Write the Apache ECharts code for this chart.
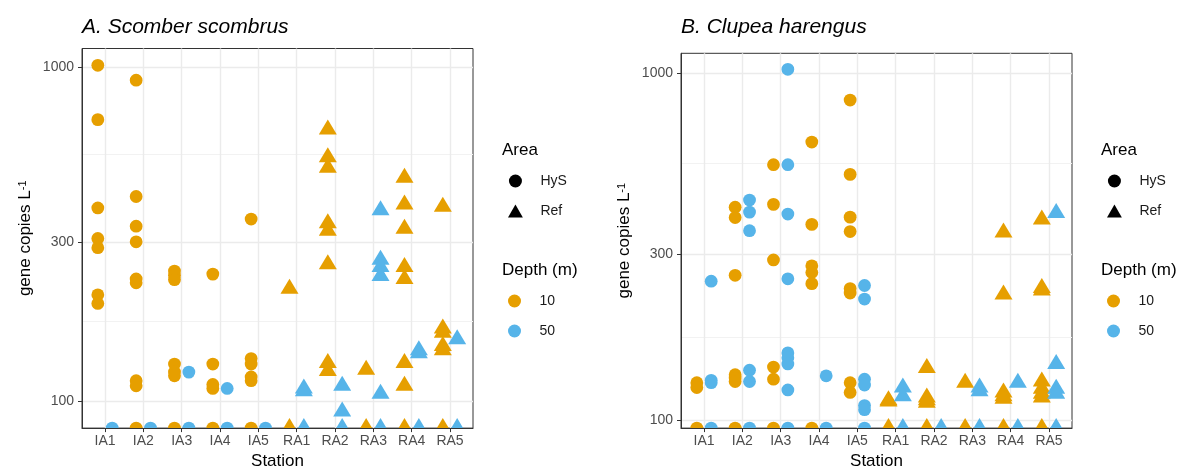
<!DOCTYPE html>
<html>
<head>
<meta charset="utf-8">
<script src="https://cdn.jsdelivr.net/npm/echarts@6/dist/echarts.min.js"></script>
<style>
  html, body { margin: 0; background: #fff; }
  #main { width: 1182px; height: 475px; }
</style>
</head>
<body>
<div id="main"></div>
<script>
// stations on the x axis (IA = HyS area, RA = Ref area)
var stations = ['IA1', 'IA2', 'IA3', 'IA4', 'IA5', 'RA1', 'RA2', 'RA3', 'RA4', 'RA5'];

// gene copies per litre, one list per station, 0 = not detected
var scomber10 = [
  [1014, 697, 379, 307, 288, 208, 196],
  [915, 410, 334, 300, 232, 226, 115, 111, 0],
  [245, 238, 231, 129, 122, 119, 0],
  [240, 129, 112, 109, 0],
  [351, 134, 129, 118, 115, 0],
  [217, 0],
  [651, 538, 500, 341, 324, 257, 130, 123],
  [124, 0],
  [467, 388, 328, 252, 232, 130, 111, 0],
  [382, 165, 160, 146, 142, 0]
];
var scomber50 = [
  [0], [0], [122, 0], [109, 0], [0],
  [109, 107, 0], [111, 93, 0], [373, 265, 252, 237, 105, 0], [142, 139, 0], [153, 0]
];
var clupea10 = [
  [128, 124, 0],
  [410, 383, 261, 135, 132, 129, 0],
  [544, 418, 289, 142, 131, 0],
  [632, 366, 278, 266, 247, 0],
  [835, 510, 384, 349, 239, 232, 128, 120],
  [114, 113, 0],
  [141, 116, 114, 112, 0],
  [128, 0],
  [347, 230, 120, 117, 115, 0],
  [378, 240, 236, 129, 123, 119, 116, 0]
];
var clupea50 = [
  [251, 130, 128, 0],
  [430, 397, 351, 139, 129, 0],
  [1024, 544, 392, 255, 156, 151, 145, 122, 0],
  [134, 0],
  [244, 223, 131, 126, 110, 107, 0],
  [124, 117, 0],
  [0],
  [124, 121, 0],
  [128, 0],
  [395, 145, 123, 119, 0]
];

var yTicks = [100, 300, 1000];
var yMinorTicks = [173.2, 547.7];
var rangeA = [82.9, 1139];
var rangeB = [94.7, 1139];

var FONT = 'Liberation Sans, Arial, sans-serif';
var ORANGE = '#E69F00';
var BLUE = '#56B4E9';
var xTicks = stations.map(function (s, i) { return i + 1; });
var triIcon = 'path://M8,0 L16,14 L0,14 Z';

var myChart = echarts.init(document.getElementById('main'));

// one point per value, dodged left (10 m) or right (50 m); zeros sit on the panel floor
function pointsFor(values, dodge, floor) {
  var out = [];
  values.forEach(function (list, i) {
    var area = stations[i].charAt(0) === 'R' ? 1 : 0;
    list.forEach(function (v) {
      out.push([i + 1 + dodge, v > 0 ? v : floor, area]);
    });
  });
  return out;
}

function drawPoint(params, api) {
  var p = api.coord([api.value(0), api.value(1)]);
  var fill = api.visual('color');
  if (api.value(2) === 1) {
    return {
      type: 'polygon',
      shape: { points: [[p[0], p[1] - 10], [p[0] + 9, p[1] + 5], [p[0] - 9, p[1] + 5]] },
      style: { fill: fill }
    };
  }
  return { type: 'circle', shape: { cx: p[0], cy: p[1], r: 6.4 }, style: { fill: fill } };
}

function xAxes(gi) {
  return [{
    gridIndex: gi, type: 'value', min: 0.4, max: 10.6, position: 'bottom',
    axisLine: { show: false },
    axisTick: { show: true, length: 4, customValues: xTicks, lineStyle: { color: '#333333' } },
    axisLabel: {
      customValues: xTicks, color: '#4D4D4D', fontSize: 14, margin: 6, fontFamily: FONT,
      formatter: function (v) { return stations[Math.round(v) - 1]; }
    },
    splitLine: { show: true, lineStyle: { color: '#EBEBEB', width: 1.4 } },
    name: 'Station', nameLocation: 'middle', nameGap: 24,
    nameTextStyle: { color: '#000', fontSize: 17, fontFamily: FONT }
  }, {
    gridIndex: gi, type: 'value', min: 0.4, max: 10.6, position: 'bottom', z: 5,
    axisLine: { show: true, onZero: false, lineStyle: { color: '#333333', width: 1 } },
    axisTick: { show: false }, axisLabel: { show: false }, splitLine: { show: false }
  }];
}

function yAxes(gi, range) {
  return [{
    gridIndex: gi, type: 'log', logBase: 10, min: range[0], max: range[1], position: 'left',
    axisLine: { show: true, onZero: false, lineStyle: { color: '#333333', width: 1 } },
    axisTick: { show: true, length: 4, customValues: yTicks, lineStyle: { color: '#333333' } },
    axisLabel: {
      customValues: yTicks, color: '#4D4D4D', fontSize: 14, margin: 8, fontFamily: FONT,
      formatter: function (v) { return String(Math.round(v)); }
    },
    splitLine: { show: true, lineStyle: { color: '#EBEBEB', width: 1.4 } },
    name: 'gene copies L{sup|-1}', nameLocation: 'middle', nameGap: 48,
    nameTextStyle: {
      color: '#000', fontSize: 17, fontFamily: FONT,
      rich: { sup: { fontSize: 11, fontFamily: FONT, color: '#000', verticalAlign: 'top' } }
    }
  }, {
    gridIndex: gi, type: 'log', logBase: 10, min: range[0], max: range[1], position: 'left',
    axisLine: { show: false },
    axisTick: { show: false, customValues: yMinorTicks },
    axisLabel: { show: false },
    splitLine: { show: true, lineStyle: { color: '#F2F2F2', width: 1 } }
  }];
}

function pointSeries(name, xi, yi, color, data) {
  return {
    name: name, type: 'custom', xAxisIndex: xi, yAxisIndex: yi,
    clip: true, itemStyle: { color: color },
    dimensions: ['x', 'y', 'area'], encode: { x: 0, y: 1 },
    renderItem: drawPoint, data: data
  };
}

function dummy(name, color) {
  return {
    name: name, type: 'scatter', xAxisIndex: 0, yAxisIndex: 0,
    itemStyle: { color: color, opacity: 1 }, data: []
  };
}

function legendBlock(left, top, items) {
  return {
    orient: 'vertical', left: left, top: top, padding: 0,
    itemWidth: 40, itemHeight: 13, itemGap: 16, selectedMode: false,
    itemStyle: { opacity: 1 },
    textStyle: { fontSize: 14, color: '#1A1A1A', fontFamily: FONT },
    data: items
  };
}

function heading(text, left, top, size, italic) {
  return {
    text: text, left: left, top: top, padding: 0,
    textStyle: { fontSize: size, fontWeight: 'normal', fontStyle: italic ? 'italic' : 'normal', color: '#000', fontFamily: FONT }
  };
}

var areaItems = [{ name: 'HyS', icon: 'circle' }, { name: 'Ref', icon: triIcon }];
var depthItems = [{ name: '10', icon: 'circle' }, { name: '50', icon: 'circle' }];

option = {
  animation: false,
  textStyle: { fontFamily: FONT },
  title: [
    heading('A. Scomber scombrus', 82, 17, 21, true),
    heading('B. Clupea harengus', 681, 17, 21, true),
    heading('Area', 502, 142, 17),
    heading('Depth (m)', 502, 262, 17),
    heading('Area', 1101, 142, 17),
    heading('Depth (m)', 1101, 262, 17)
  ],
  legend: [
    legendBlock(508, 174, areaItems),
    legendBlock(508, 294, depthItems),
    legendBlock(1107, 174, areaItems),
    legendBlock(1107, 294, depthItems)
  ],
  grid: [
    { left: 82, top: 48.5, width: 391, height: 386.5, show: true, borderColor: '#333333', borderWidth: 1, backgroundColor: '#fff' },
    { left: 681, top: 53.3, width: 391, height: 381.7, show: true, borderColor: '#333333', borderWidth: 1, backgroundColor: '#fff' }
  ],
  xAxis: xAxes(0).concat(xAxes(1)),
  yAxis: yAxes(0, rangeA).concat(yAxes(1, rangeB)),
  series: [
    pointSeries('A 10', 0, 0, ORANGE, pointsFor(scomber10, -0.1875, rangeA[0])),
    pointSeries('A 50', 0, 0, BLUE, pointsFor(scomber50, 0.1875, rangeA[0])),
    pointSeries('B 10', 2, 2, ORANGE, pointsFor(clupea10, -0.1875, rangeB[0])),
    pointSeries('B 50', 2, 2, BLUE, pointsFor(clupea50, 0.1875, rangeB[0])),
    dummy('HyS', '#000'),
    dummy('Ref', '#000'),
    dummy('10', ORANGE),
    dummy('50', BLUE)
  ]
};

myChart.setOption(option);
</script>
</body>
</html>
